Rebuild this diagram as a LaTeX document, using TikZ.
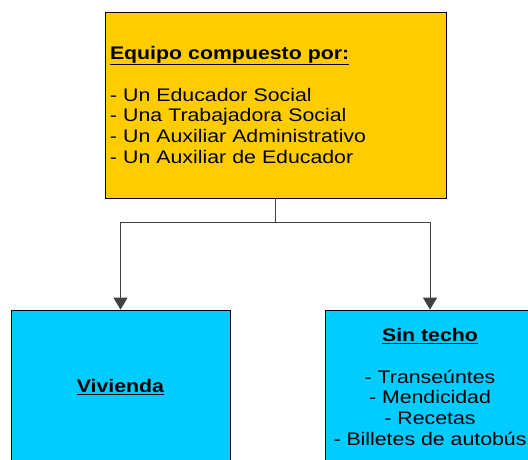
\documentclass[tikz,border=0pt]{standalone}
\usepackage{fontspec}
\setmainfont{Liberation Sans}
\newfontfamily\boxfont[FakeStretch=1.17]{Liberation Sans}
\usetikzlibrary{arrows.meta}
\usetikzlibrary{positioning}

\begin{document}
\begin{tikzpicture}[x=1pt,y=-1pt,
    box/.style={draw=black, line width=0.8pt, inner sep=0pt,
      font=\boxfont\fontsize{18.2}{20.8}\selectfont},
    link/.style={draw=black!75, line width=0.9pt},
    arrowlink/.style={link, -{Triangle[width=14pt,length=12pt]}}
    ]
\useasboundingbox (0,0) rectangle (528,459);
\clip (0,0) rectangle (528,459);

% top box
\node [box, fill={rgb,255:red,255;green,204;blue,0}, minimum width=341, minimum height=186,
  text width=331, align=left] (equipo) at (275.5,105)
  {\underline{\textbf{Equipo compuesto por:}}\\[20.8pt]
   - Un Educador Social\\
   - Una Trabajadora Social\\
   - Un Auxiliar Administrativo\\
   - Un Auxiliar de Educador};

% bottom boxes
\node [box, fill={rgb,255:red,0;green,204;blue,255}, minimum width=219, minimum height=154,
  align=center] (vivienda) at (120.5,387) {\underline{\textbf{Vivienda}}};
\node [box, fill={rgb,255:red,0;green,204;blue,255}, minimum width=210, minimum height=154,
  align=center] (sintecho) at (430,387)
  {\underline{\textbf{Sin techo}}\\[20.8pt]
   - Transeúntes\\
   - Mendicidad\\
   - Recetas\\
   - Billetes de autobús};

% connectors
\coordinate (split) at (275.5,222);
\draw [link] (equipo.south) -- (split);
\draw [arrowlink] (split) -| (vivienda.north);
\draw [arrowlink] (split) -| (sintecho.north);
\end{tikzpicture}
\end{document}
